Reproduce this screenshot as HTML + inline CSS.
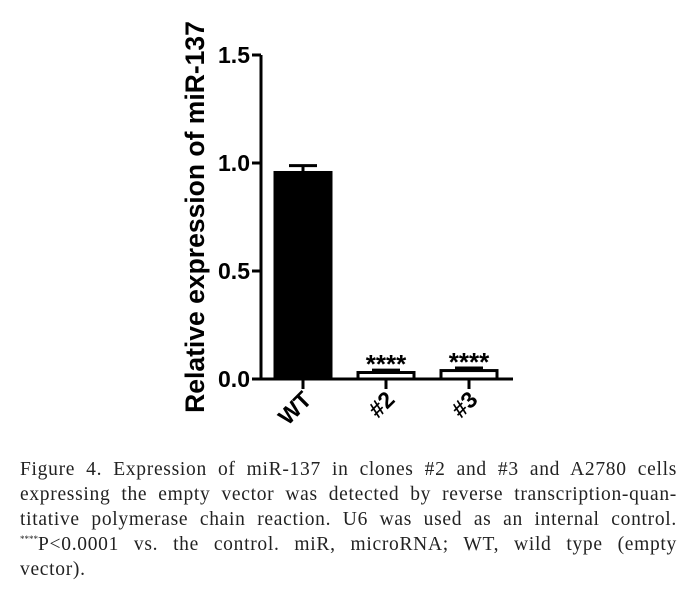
<!DOCTYPE html>
<html><head><meta charset="utf-8"><style>
body{margin:0;width:690px;height:598px;background:#fff;position:relative;overflow:hidden;font-family:"Liberation Serif",serif}
.cl{position:absolute;left:20px;width:657px;height:25px;font-size:19.5px;letter-spacing:0.7px;line-height:25px;text-align:justify;text-align-last:justify;white-space:nowrap;color:#222}
.cl.last{text-align-last:left}
sup{font-size:9px;line-height:0;vertical-align:8px;letter-spacing:0}
</style></head><body>
<svg width="690" height="450" style="position:absolute;left:0;top:0" font-family="Liberation Sans, Arial, sans-serif" font-weight="bold">
<g id="g"></g>
</svg>
<div>
<div class="cl" style="top:457px">Figure 4. Expression of miR-137 in clones #2 and #3 and A2780 cells</div>
<div class="cl" style="top:482px">expressing the empty vector was detected by reverse transcription-quan-</div>
<div class="cl" style="top:507px">titative polymerase chain reaction. U6 was used as an internal control.</div>
<div class="cl" style="top:532px"><sup>****</sup>P&lt;0.0001 vs. the control. miR, microRNA; WT, wild type (empty</div>
<div class="cl last" style="top:557px">vector).</div>
</div>
<script>
const categories=["WT","#2","#3"];
const values=[0.963,0.037,0.046];
const errors=[0.025,0.004,0.005];
const sig=["","****","****"];
const ticks=[0,0.5,1.0,1.5];
const tickLabels=["0.0","0.5","1.0","1.5"];
const g=document.getElementById('g');
const NS="http://www.w3.org/2000/svg";
const y0=379,pxPer=216,ax=261,axEnd=513;
const y=v=>y0-v*pxPer;
const cx=i=>303+i*83;
const bw=59;
function mk(t,a,p){const e=document.createElementNS(NS,t);for(const k in a)e.setAttribute(k,a[k]);(p||g).appendChild(e);return e;}
let e;
e=mk('line',{x1:ax,y1:y(1.5),x2:ax,y2:y0+1,stroke:'#000','stroke-width':3});


e=mk('line',{x1:ax-1,y1:y0,x2:axEnd,y2:y0,stroke:'#000','stroke-width':3});


ticks.forEach((t,i)=>{
 mk('line',{x1:ax-9,y1:y(t),x2:ax,y2:y(t),stroke:'#000','stroke-width':3});
 e=mk('text',{x:ax-11,y:y(t)+8,'text-anchor':'end','font-size':23});
 e.textContent=tickLabels[i];
 
 
});
e=mk('text',{transform:'translate(204,217) rotate(-90)','text-anchor':'middle','font-size':26.5});
e.textContent='Relative expression of  miR-137';


categories.forEach((c,i)=>{
 const x=cx(i);
 mk('line',{x1:x,y1:y0,x2:x,y2:y0+10,stroke:'#000','stroke-width':3});
 const err=mk('path',{d:`M${x} ${y(values[i])} V${y(values[i]+errors[i])} M${x-14} ${y(values[i]+errors[i])} H${x+14}`,stroke:'#000','stroke-width':3,fill:'none'});
 const b=mk('rect',{x:x-bw/2+1.5,y:y(values[i])+1.5,width:bw-3,height:Math.max(y0-y(values[i])-1.5,0),fill:i==0?'#000':'#fff',stroke:'#000','stroke-width':3});
 
 
 
 
 if(sig[i]){const s=mk('text',{x:x,y:y(values[i]+errors[i])+3,'text-anchor':'middle','font-size':26});s.textContent=sig[i];
 
 }
 const l=mk('text',{transform:`translate(${x+10},${y0+22}) rotate(-45)`,'text-anchor':'end','font-size':23});
 l.textContent=c;
 
 
});
</script>
</body></html>
